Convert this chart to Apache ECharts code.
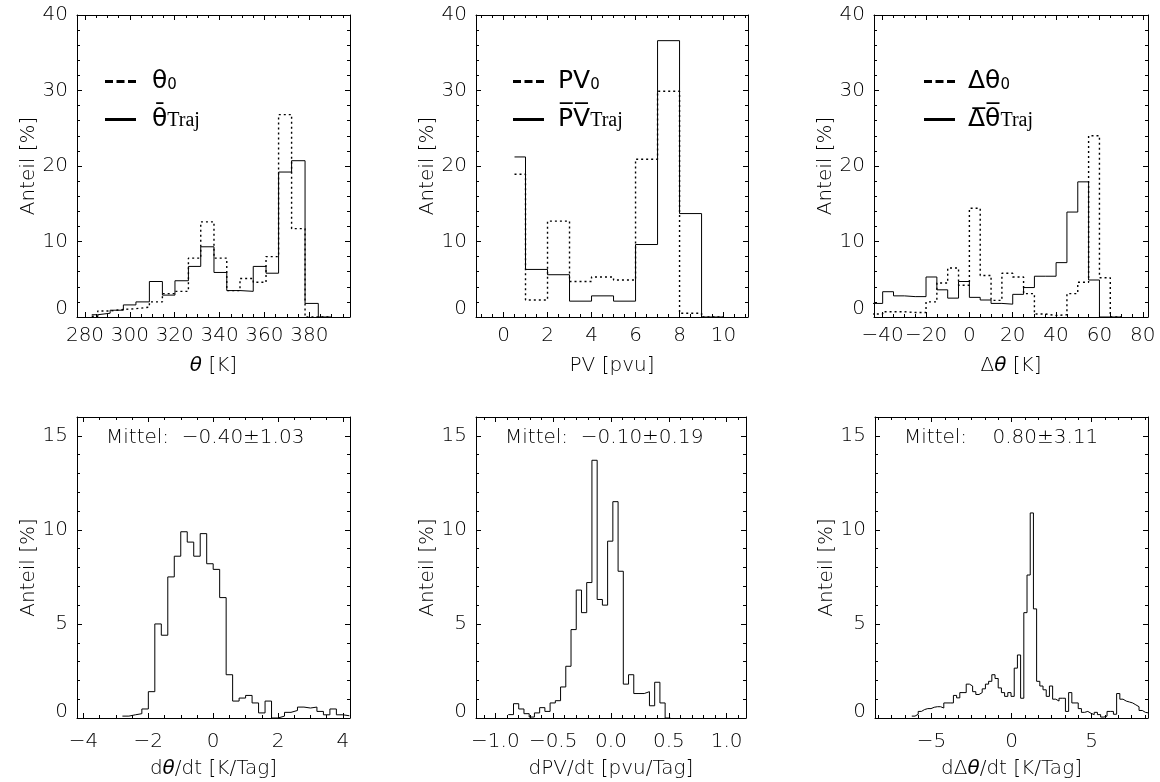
<!DOCTYPE html>
<html>
<head>
<meta charset="utf-8">
<script src="https://cdn.jsdelivr.net/npm/echarts@6/dist/echarts.min.js"></script>
<style>html,body{margin:0;padding:0;background:#fff}#chart{width:1160px;height:782px}</style>
</head>
<body>
<div id="chart"></div>
<script>
// ---- θ distribution [K] (bin edges, percent per bin) ----
const thetaEdges = [283.0, 285.7, 291.2, 297.1, 302.7, 308.7, 314.5, 320.1, 326.1, 331.6, 337.5, 343.2, 349.1, 355.0, 360.7, 366.3, 372.1, 378.1, 384.0, 390.0];
const theta0     = [0.1, 0.8, 1.0, 1.1, 1.3, 2.0, 3.1, 3.4, 7.8, 12.6, 7.8, 3.5, 5.1, 4.6, 8.0, 26.8, 11.7, 0, 0];
const thetaTraj  = [0.3, 0.5, 0.9, 1.6, 2.0, 4.7, 2.9, 4.8, 6.7, 9.3, 5.9, 3.5, 3.4, 6.7, 5.8, 19.2, 20.7, 1.8, 0];

// ---- PV distribution [pvu] ----
const pvEdges = [0.5, 1, 2, 3, 4, 5, 6, 7, 8, 9, 10];
const pv0     = [18.9, 2.25, 12.7, 4.7, 5.3, 4.9, 20.9, 29.9, 0.5, 0];
const pvTraj  = [21.2, 6.3, 5.6, 2.1, 2.8, 2.1, 9.6, 36.6, 13.7, 0];

// ---- Δθ distribution [K], 5 K bins from -45 K ----
const dthStart = -45, dthWidth = 5;
const dth0    = [0.4, 0.7, 0.7, 0.6, 0.6, 2.0, 4.5, 6.5, 4.2, 14.4, 5.5, 2.2, 5.8, 5.3, 3.1, 0.4, 0.2, 0.3, 3.1, 4.6, 24.0, 5.2, 0];
const dthTraj = [1.8, 3.35, 2.8, 2.7, 2.7, 5.3, 3.6, 2.5, 4.7, 2.6, 2.25, 1.8, 1.7, 3.0, 3.9, 5.4, 5.4, 7.2, 13.9, 17.9, 4.9, 0, 0];

// ---- tendency histograms ----
const dthetaStart = -2.8, dthetaWidth = 0.2;
const dthetaDt = [0.1, 0.17, 0.23, 0.48, 1.4, 5.0, 4.4, 7.5, 8.6, 9.9, 9.35, 8.6, 9.8, 8.2, 7.9, 6.4, 2.3, 0.9, 1.06, 1.2, 0.8, 0.27, 0.9, 0, 0.1, 0.3, 0.4, 0.58, 0.53, 0.58, 0.35, 0.17, 0.48, 0.17, 0.12];

const dpvStart = -0.888, dpvWidth = 0.0452;
const dpvDt = [0.18, 0.76, 0.48, 0.23, 0.05, 0.27, 0.55, 0.35, 0.8, 0.92, 1.65, 2.75, 4.7, 6.8, 5.6, 7.2, 13.7, 6.3, 6.0, 9.4, 11.5, 7.8, 1.8, 2.3, 1.3, 1.3, 1.4, 0.65, 1.9, 0.8, 0];

const ddthStart = -6.23, ddthWidth = 0.2;
const ddthDt = [0.1, 0.2, 0.35, 0.45, 0.5, 0.5, 0.57, 0.6, 0.6, 0.53,
                0.8, 0.8, 0.8, 1.2, 1.07, 1.35, 1.35, 1.8, 1.7, 1.4,
                1.25, 1.35, 1.55, 1.8, 1.95, 2.3, 2.1, 1.6, 1.35, 1.15,
                1.35, 1.15, 2.65, 3.35, 1.05, 5.6, 7.6, 10.9, 5.8, 1.95,
                1.7, 1.5, 1.15, 1.7, 1.0, 0.9, 1.05, 1.05, 0.35, 1.35,
                0.8, 0.8, 0.5, 0.3, 0.35, 0.25, 0.18, 0.3, 0.18, 0.05,
                0.1, 0.35, 0.35, 0.2, 1.3, 1.0, 0.9, 0.85, 0.8, 0.7,
                0.6, 0.4, 0.3, 0.27];

// ---- annotation texts ----
const meanTexts = ['Mittel:  \u22120.40\u00b11.03', 'Mittel:  \u22120.10\u00b10.19', 'Mittel:    0.80\u00b13.11'];

// ---- helpers ----
function uniformEdges(start, width, n) {
  const e = [];
  for (let i = 0; i <= n; i++) e.push(+(start + i * width).toFixed(6));
  return e;
}
// histogram outline: horizontal step at each bin value
function outline(edges, vals) {
  const pts = [];
  for (let i = 0; i < vals.length; i++) {
    pts.push([edges[i], vals[i]], [edges[i + 1], vals[i]]);
  }
  return pts;
}

const FONT = '"DejaVu Sans", sans-serif';
const FW = 200;
const BLACK = '#000';

const frames = [
  { left: 77,  top: 15,  width: 273, height: 302 },
  { left: 476, top: 15,  width: 272, height: 302 },
  { left: 874, top: 15,  width: 274, height: 302 },
  { left: 77,  top: 417, width: 273, height: 301 },
  { left: 476, top: 417, width: 270, height: 301 },
  { left: 875, top: 417, width: 273, height: 301 }
];

function signed(dec) {
  return v => (v < 0 ? '\u2212' : '') + Math.abs(v).toFixed(dec);
}

const xSpec = [
  { min: 276.43, max: 398.14, step: 20,  minor: 4, dec: 0, name: '{i|\u03b8} [K]' },
  { min: -1.25,  max: 11.11,  step: 2,   minor: 4, dec: 0, name: 'PV [pvu]' },
  { min: -44.0,  max: 82.4,   step: 20,  minor: 4, dec: 0, name: '\u0394{i|\u03b8} [K]' },
  { min: -4.2,   max: 4.22,   step: 2,   minor: 4, dec: 0, name: 'd{i|\u03b8}/dt [K/Tag]' },
  { min: -1.167, max: 1.167,  step: 0.5, minor: 5, dec: 1, name: 'dPV/dt [pvu/Tag]' },
  { min: -8.53,  max: 8.53,   step: 5,   minor: 6, dec: 0, name: 'd\u0394{i|\u03b8}/dt [K/Tag]' }
];

const labelStyle = { fontFamily: FONT, fontWeight: FW, fontSize: 20, color: BLACK };

const xAxis = [], yAxis = [];
frames.forEach((f, g) => {
  const s = xSpec[g];
  const top = g < 3;
  const base = {
    type: 'value', gridIndex: g, min: s.min, max: s.max,
    minInterval: s.step, maxInterval: s.step,
    splitLine: { show: false },
    axisLine: { show: true, onZero: false, lineStyle: { color: BLACK, width: 1 } },
    axisTick: { show: true, inside: true, length: 5, lineStyle: { color: BLACK, width: 1 } },
    minorTick: { show: true, splitNumber: s.minor, length: 3, lineStyle: { color: BLACK, width: 1 } }
  };
  xAxis.push(Object.assign({}, base, {
    position: 'bottom',
    name: s.name, nameLocation: 'middle', nameGap: top ? 39 : 41,
    nameTextStyle: Object.assign({}, labelStyle, {
      rich: { i: Object.assign({}, labelStyle, { fontStyle: 'italic' }) }
    }),
    axisLabel: Object.assign({}, labelStyle, {
      margin: top ? 9 : 14, showMinLabel: false, showMaxLabel: false,
      formatter: signed(s.dec)
    })
  }));
  xAxis.push(Object.assign({}, base, { position: 'top', axisLabel: { show: false } }));

  const ybase = {
    type: 'value', gridIndex: g, min: 0, max: top ? 40 : 16,
    minInterval: top ? 10 : 5, maxInterval: top ? 10 : 5,
    splitLine: { show: false },
    axisLine: { show: true, onZero: false, lineStyle: { color: BLACK, width: 1 } },
    axisTick: { show: true, inside: true, length: 5, lineStyle: { color: BLACK, width: 1 } },
    minorTick: { show: true, splitNumber: 5, length: 3, lineStyle: { color: BLACK, width: 1 } }
  };
  yAxis.push(Object.assign({}, ybase, {
    position: 'left',
    name: 'Anteil [%]', nameLocation: 'middle', nameGap: 38,
    nameTextStyle: labelStyle,
    axisLabel: Object.assign({}, labelStyle, {
      margin: 9, showMinLabel: true, showMaxLabel: top,
      formatter: v => (v === 0 ? '{z|0}' : String(v)),
      rich: { z: Object.assign({}, labelStyle, { padding: [0, 0, top ? 16 : 13, 0] }) }
    })
  }));
  yAxis.push(Object.assign({}, ybase, { position: 'right', axisLabel: { show: false } }));
});

const dotted = { color: BLACK, width: 1.4, type: [2, 3] };
const solid = { color: BLACK, width: 1 };
function line(name, g, pts, style) {
  return {
    name, type: 'line', xAxisIndex: 2 * g, yAxisIndex: 2 * g,
    data: pts, symbol: 'none', color: BLACK, itemStyle: { color: BLACK },
    lineStyle: style, silent: true, animation: false, clip: true
  };
}

const series = [
  line('theta0', 0, outline(thetaEdges, theta0), dotted),
  line('thetaTraj', 0, outline(thetaEdges, thetaTraj), solid),
  line('pv0', 1, outline(pvEdges, pv0), dotted),
  line('pvTraj', 1, outline(pvEdges, pvTraj), solid),
  line('dth0', 2, outline(uniformEdges(dthStart, dthWidth, dth0.length), dth0), dotted),
  line('dthTraj', 2, outline(uniformEdges(dthStart, dthWidth, dthTraj.length), dthTraj), solid),
  line('dthetaDt', 3, outline(uniformEdges(dthetaStart, dthetaWidth, dthetaDt.length), dthetaDt), solid),
  line('dpvDt', 4, outline(uniformEdges(dpvStart, dpvWidth, dpvDt.length), dpvDt), solid),
  line('ddthDt', 5, outline(uniformEdges(ddthStart, ddthWidth, ddthDt.length), ddthDt), solid)
];

// legend text: sans symbol, small subscript, serif "Traj"
function legendRich(pad) {
  return {
    big: { fontFamily: FONT, fontSize: 25, verticalAlign: 'bottom', color: BLACK, padding: [0, 0, 0, pad] },
    sub: { fontFamily: FONT, fontSize: 15, verticalAlign: 'bottom', color: BLACK, padding: [0, 0, 1, 0] },
    traj: { fontFamily: '"Liberation Serif", serif', fontSize: 20, verticalAlign: 'bottom', color: BLACK, padding: [0, 0, 1, 0] }
  };
}
const legendText = {
  theta0: '{big|\u03b8}{sub|0}',
  thetaTraj: '{big|\u03b8\u0304}{traj|Traj}',
  pv0: '{big|PV}{sub|0}',
  pvTraj: '{big|P\u0305V\u0305}{traj|Traj}',
  dth0: '{big|\u0394\u03b8}{sub|0}',
  dthTraj: '{big|\u0394\u0305\u03b8\u0305}{traj|Traj}'
};
// dashed and solid key strokes
const dashIcon = 'path://M0,0H8V3H0Z M11.5,0H19.5V3H11.5Z M23,0H31V3H23Z';
function legendItem(left, top, name, icon, pad) {
  return {
    left, top, orient: 'vertical', itemWidth: 31, itemHeight: 3,
    padding: 0, selectedMode: false,
    data: [{ name, icon, itemStyle: { color: BLACK, borderWidth: 0 } }],
    formatter: n => legendText[n],
    textStyle: { rich: legendRich(pad) }
  };
}

const titleStyle = Object.assign({}, labelStyle);
const option = {
  backgroundColor: '#fff',
  animation: false,
  grid: frames.map(f => Object.assign({ containLabel: false }, f)),
  xAxis, yAxis, series,
  legend: [
    legendItem(105, 69, 'theta0', dashIcon, 11),
    legendItem(105, 107, 'thetaTraj', 'rect', 11),
    legendItem(513, 69, 'pv0', dashIcon, 9),
    legendItem(513, 107, 'pvTraj', 'rect', 9),
    legendItem(924, 69, 'dth0', dashIcon, 8),
    legendItem(924, 107, 'dthTraj', 'rect', 8)
  ],
  title: [
    { text: meanTexts[0], left: 106, top: 428, padding: 0, textStyle: titleStyle },
    { text: meanTexts[1], left: 505, top: 428, padding: 0, textStyle: titleStyle },
    { text: meanTexts[2], left: 904, top: 428, padding: 0, textStyle: titleStyle }
  ]
};

const chart = echarts.init(document.getElementById('chart'), null, { renderer: 'canvas' });
chart.setOption(option);
</script>
</body>
</html>
